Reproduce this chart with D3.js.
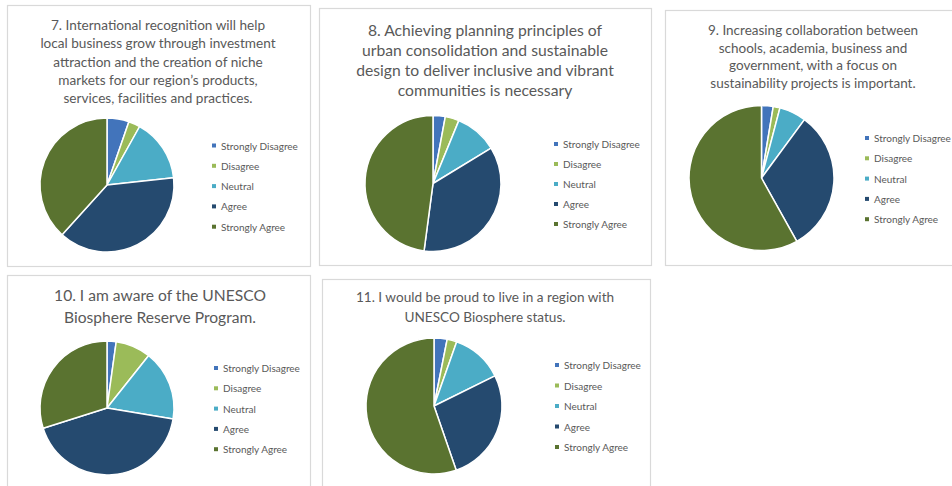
<!DOCTYPE html>
<html>
<head>
<meta charset="utf-8">
<script src="https://cdn.jsdelivr.net/npm/d3@7"></script>
<style>
  html, body { margin: 0; padding: 0; background: #ffffff; }
  svg { display: block; }
</style>
</head>
<body>
<svg id="chart" width="952" height="486"></svg>
<script>
// Response categories shared by every question
const categories = ["Strongly Disagree", "Disagree", "Neutral", "Agree", "Strongly Agree"];

// Question titles, already broken into lines
const titles7  = ["7. International recognition will help", "local business grow through investment", "attraction and the creation of niche", "markets for our region\u2019s products,", "services, facilities and practices."];
const titles8  = ["8. Achieving planning principles of", "urban consolidation and sustainable", "design to deliver inclusive and vibrant", "communities is necessary"];
const titles9  = ["9. Increasing collaboration between", "schools, academia, business and", "government, with a focus on", "sustainability projects is important."];
const titles10 = ["10. I am aware of the UNESCO", "Biosphere Reserve Program."];
const titles11 = ["11. I would be proud to live in a region with", "UNESCO Biosphere status."];

// Share of responses (%) per category, in category order
const values7  = [5.3, 2.8, 15.2, 38.4, 38.3];
const values8  = [2.9, 3.3, 10.1, 35.8, 47.9];
const values9  = [2.6, 1.5, 6.0, 31.8, 58.1];
const values10 = [2.2, 8.5, 16.9, 42.5, 29.9];
const values11 = [3.1, 2.3, 12.3, 27.0, 55.3];

// Colours per category
const palette = ["#4274bb", "#9bbb59", "#4bacc6", "#254a6f", "#5a7330"];

// Panel layout: frame box, title placement, pie placement, legend placement
const panels = [
  { titles: titles7,  values: values7,  box: [7, 5, 303, 261],   title: { x: 158, y: 25, size: 13.6, lh: 18.3 }, pie: { cx: 107, cy: 185, r: 67 }, legend: { x: 214, y: 145.5, dy: 20.3 } },
  { titles: titles8,  values: values8,  box: [319, 8, 332, 257], title: { x: 485, y: 30, size: 15.7, lh: 20 },   pie: { cx: 433, cy: 183.5, r: 68 }, legend: { x: 556, y: 144, dy: 20 } },
  { titles: titles9,  values: values9,  box: [665, 10, 300, 255], title: { x: 813, y: 30, size: 13.5, lh: 17.6 }, pie: { cx: 761.5, cy: 178, r: 72.5 }, legend: { x: 867, y: 138, dy: 20.3 } },
  { titles: titles10, values: values10, box: [7, 275, 303, 220], title: { x: 160, y: 295, size: 15.6, lh: 22 },   pie: { cx: 107, cy: 408, r: 67 }, legend: { x: 216, y: 368, dy: 20.3 } },
  { titles: titles11, values: values11, box: [322, 279, 328, 220], title: { x: 485, y: 297, size: 13.6, lh: 20 }, pie: { cx: 434, cy: 406, r: 68 }, legend: { x: 557, y: 365, dy: 20.5 } }
];

const svg = d3.select("#chart");
const color = d3.scaleOrdinal().domain(categories).range(palette);
const pie = d3.pie().sort(null).value(d => d.value);

panels.forEach(p => {
  const g = svg.append("g");

  // frame
  g.append("rect")
    .attr("x", p.box[0] + 0.5).attr("y", p.box[1] + 0.5)
    .attr("width", p.box[2]).attr("height", p.box[3])
    .attr("fill", "#ffffff")
    .attr("stroke", "#d9d9d9").attr("stroke-width", 1.2);

  // title
  g.append("text")
    .attr("text-anchor", "middle")
    .attr("font-family", "Lato, 'Open Sans', sans-serif")
    .attr("font-size", p.title.size)
    .attr("fill", "#595959")
    .selectAll("tspan")
    .data(p.titles)
    .join("tspan")
      .attr("x", p.title.x)
      .attr("y", (d, i) => p.title.y + i * p.title.lh)
      .attr("dominant-baseline", "central")
      .text(d => d);

  // pie
  const data = categories.map((c, i) => ({ category: c, value: p.values[i] }));
  const arc = d3.arc().innerRadius(0).outerRadius(p.pie.r);
  g.append("g")
    .attr("transform", `translate(${p.pie.cx},${p.pie.cy})`)
    .selectAll("path")
    .data(pie(data))
    .join("path")
      .attr("d", arc)
      .attr("fill", d => color(d.data.category))
      .attr("stroke", "#ffffff")
      .attr("stroke-width", 1.5)
      .attr("stroke-linejoin", "round");

  // legend
  const lg = g.append("g")
    .selectAll("g")
    .data(categories)
    .join("g")
      .attr("transform", (d, i) => `translate(${p.legend.x},${p.legend.y + i * p.legend.dy})`);
  lg.append("rect")
    .attr("x", -2).attr("y", -2)
    .attr("width", 4).attr("height", 4)
    .attr("fill", d => color(d));
  lg.append("text")
    .attr("x", 7)
    .attr("dominant-baseline", "central")
    .attr("font-family", "Lato, 'Open Sans', sans-serif")
    .attr("font-size", 10)
    .attr("fill", "#595959")
    .text(d => d);
});
</script>
</body>
</html>
